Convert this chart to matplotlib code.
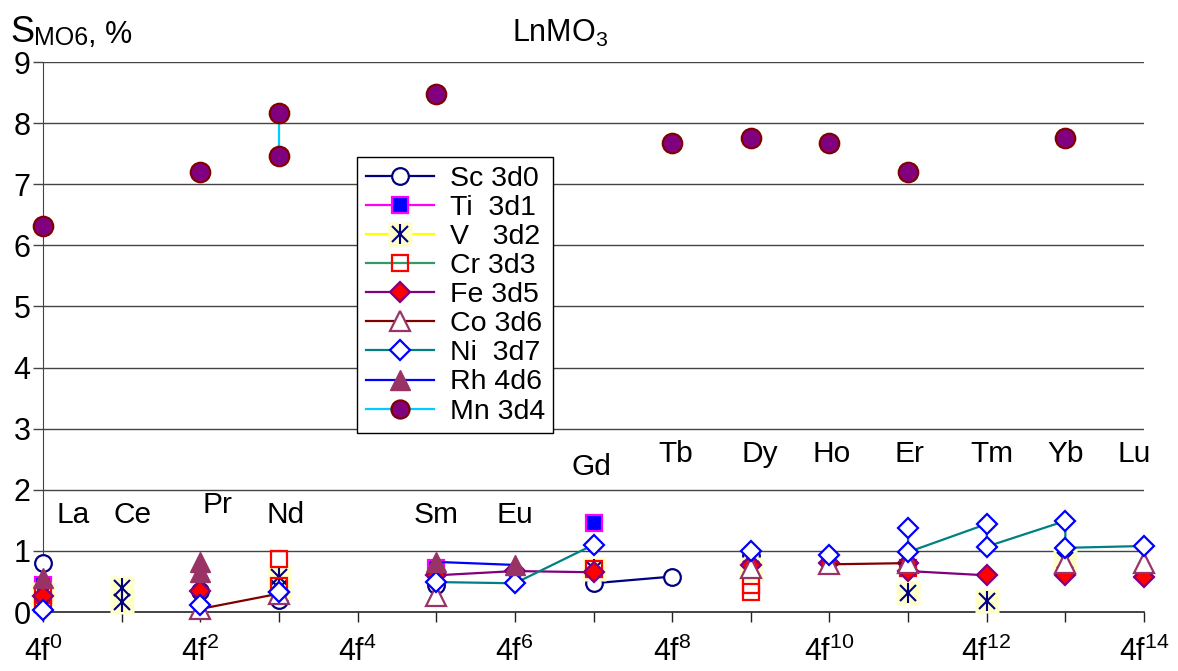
import numpy as np
import matplotlib
matplotlib.use("Agg")
import matplotlib.pyplot as plt
from matplotlib.lines import Line2D
from matplotlib.legend_handler import HandlerTuple

plt.rcParams['font.family'] = ['Liberation Sans', 'DejaVu Sans']
plt.rcParams['mathtext.fontset'] = 'custom'
plt.rcParams['mathtext.rm'] = 'Liberation Sans'
plt.rcParams['mathtext.it'] = 'Liberation Sans:italic'

nan = np.nan

# data (x = number of 4f electrons, y = S_MO6 in %), nan breaks the line
sc_x = [0, nan, 2, nan, 3, nan, 5, nan, 7, 8, nan, 9]
sc_y = [0.80, nan, 0.35, nan, 0.20, nan, 0.44, nan, 0.47, 0.58, nan, 0.92]

ti_x = [0, nan, 5, nan, 7]
ti_y = [0.45, nan, 0.72, nan, 1.45]

v_x = [0, nan, 1, nan, 1, nan, 3, nan, 3, nan, 7, nan, 9, nan, 11, nan, 12, nan, 13]
v_y = [0.30, nan, 0.40, nan, 0.17, nan, 0.58, nan, 0.40, nan, 0.70, nan, 0.70, nan, 0.31, nan, 0.18, nan, 0.85]

cr_x = [0, nan, 0, nan, 3, nan, 3, nan, 7, nan, 9, nan, 9, nan, 11]
cr_y = [0.28, nan, 0.15, nan, 0.87, nan, 0.42, nan, 0.70, nan, 0.45, nan, 0.33, nan, 0.72]

fe_x = [0, nan, 2, nan, 3, nan, 5, 6, 7, nan, 9, nan, 10, nan, 11, nan, 11, 12, nan, 13, nan, 14]
fe_y = [0.27, nan, 0.35, nan, 0.33, nan, 0.60, 0.67, 0.65, nan, 0.77, nan, 0.80, nan, 0.80, nan, 0.67, 0.60, nan, 0.60, nan, 0.57]

co_x = [2, 3, nan, 5, nan, 9, nan, 10, 11, nan, 13, nan, 14]
co_y = [0.05, 0.30, nan, 0.27, nan, 0.72, nan, 0.78, 0.80, nan, 0.80, nan, 0.80]

ni_x = [0, nan, 2, nan, 3, nan, 5, 6, 7, nan, 9, nan, 10, nan, 11, 11, 12, 12, 13, 13, 14]
ni_y = [0.03, nan, 0.12, nan, 0.32, nan, 0.49, 0.47, 1.10, nan, 1.00, nan, 0.93, nan, 1.37, 0.98, 1.44, 1.07, 1.49, 1.05, 1.08]

rh_x = [0, nan, 2, nan, 2, nan, 5, 6]
rh_y = [0.55, nan, 0.82, nan, 0.65, nan, 0.82, 0.77]

mn_x = [0, nan, 2, nan, 3, 3, nan, 5, nan, 8, nan, 9, nan, 10, nan, 11, nan, 13]
mn_y = [6.32, nan, 7.20, nan, 8.17, 7.47, nan, 8.47, nan, 7.68, nan, 7.75, nan, 7.68, nan, 7.20, nan, 7.75]

ln_names = ['La', 'Ce', 'Pr', 'Nd', 'Sm', 'Eu', 'Gd', 'Tb', 'Dy', 'Ho', 'Er', 'Tm', 'Yb', 'Lu']
ln_tx = [0.38, 1.14, 2.22, 3.09, 5.0, 6.0, 6.97, 8.05, 9.12, 10.03, 11.02, 12.07, 13.0, 13.87]
ln_ty = [1.58, 1.58, 1.75, 1.58, 1.58, 1.58, 2.37, 2.59, 2.59, 2.59, 2.59, 2.59, 2.59, 2.59]

xtick_pos = list(range(0, 15))
ytick_pos = list(range(0, 10))

fig = plt.figure(figsize=(11.78, 6.71), dpi=100)
ax = fig.add_axes([43 / 1178, 59 / 671, 1101 / 1178, 550 / 671])
ax.set_xlim(0, 14)
ax.set_ylim(0, 9)

for yv in ytick_pos[1:]:
    ax.axhline(yv, color='#444444', lw=1.0, zorder=0)

lw = 1.6
ax.plot(sc_x, sc_y, color='#000080', lw=lw, marker='o', ms=12, mfc='white',
        mec='#000080', mew=1.6, clip_on=False, zorder=3)
ax.plot(ti_x, ti_y, color='#FF00FF', lw=lw, marker='s', ms=12, mfc='#0000FF',
        mec='#FF00FF', mew=1.6, clip_on=False, zorder=4)
ax.plot(v_x, v_y, color='#FFFF00', lw=lw, marker='s', ms=17, mfc='#FFFFCC',
        mec='none', clip_on=False, zorder=5)
ax.plot(v_x, v_y, ls='none', marker='x', ms=11, mec='#000080', mew=1.5,
        clip_on=False, zorder=5)
ax.plot(v_x, v_y, ls='none', marker='|', ms=15, mec='#000080', mew=1.5,
        clip_on=False, zorder=5)
ax.plot(cr_x, cr_y, color='#339966', lw=lw, marker='s', ms=12, mfc='none',
        mec='#FF0000', mew=1.6, clip_on=False, zorder=6)
ax.plot(fe_x, fe_y, color='#800080', lw=lw, marker='D', ms=10, mfc='#FF0000',
        mec='#800080', mew=1.6, clip_on=False, zorder=7)
ax.plot(co_x, co_y, color='#800000', lw=lw, marker='^', ms=14, mfc='white',
        mec='#993366', mew=1.6, clip_on=False, zorder=8)
ax.plot(ni_x, ni_y, color='#008080', lw=lw, marker='D', ms=10, mfc='white',
        mec='#0000FF', mew=1.6, clip_on=False, zorder=9)
ax.plot(rh_x, rh_y, color='#0000FF', lw=lw, marker='^', ms=14, mfc='#993366',
        mec='#993366', mew=1.0, clip_on=False, zorder=10)
ax.plot(mn_x, mn_y, color='#00CCFF', lw=lw, marker='o', ms=14, mfc='#800080',
        mec='#800000', mew=1.6, clip_on=False, zorder=11)

for name, tx, ty in zip(ln_names, ln_tx, ln_ty):
    ax.text(tx, ty, name, fontsize=21.5, ha='center', va='center', zorder=12)

for s in ['top', 'right']:
    ax.spines[s].set_visible(False)
ax.spines['left'].set_color('#444444')
ax.spines['bottom'].set_color('#222222')
ax.spines['bottom'].set_linewidth(1.2)

ax.set_yticks(ytick_pos)
ax.set_yticklabels([str(v) for v in ytick_pos], fontsize=22)
ax.set_xticks(xtick_pos)
ax.set_xticklabels(['4f$^{\\mathregular{%d}}$' % v if v % 2 == 0 else '' for v in xtick_pos],
                   fontsize=22)
ax.tick_params(axis='y', direction='out', length=7, width=1.0, color='#444444', pad=2)
ax.tick_params(axis='x', direction='out', length=7, width=1.0, color='#222222', pad=11)

# legend
h_sc = Line2D([], [], color='#000080', lw=lw, marker='o', ms=12, mfc='white', mec='#000080', mew=1.6)
h_ti = Line2D([], [], color='#FF00FF', lw=lw, marker='s', ms=12, mfc='#0000FF', mec='#FF00FF', mew=1.6)
h_v = (Line2D([], [], color='#FFFF00', lw=lw, marker='s', ms=17, mfc='#FFFFCC', mec='none'),
       Line2D([], [], ls='none', marker='x', ms=11, mec='#000080', mew=1.5),
       Line2D([], [], ls='none', marker='|', ms=15, mec='#000080', mew=1.5))
h_cr = Line2D([], [], color='#339966', lw=lw, marker='s', ms=12, mfc='none', mec='#FF0000', mew=1.6)
h_fe = Line2D([], [], color='#800080', lw=lw, marker='D', ms=10, mfc='#FF0000', mec='#800080', mew=1.6)
h_co = Line2D([], [], color='#800000', lw=lw, marker='^', ms=14, mfc='white', mec='#993366', mew=1.6)
h_ni = Line2D([], [], color='#008080', lw=lw, marker='D', ms=10, mfc='white', mec='#0000FF', mew=1.6)
h_rh = Line2D([], [], color='#0000FF', lw=lw, marker='^', ms=14, mfc='#993366', mec='#993366', mew=1.0)
h_mn = Line2D([], [], color='#00CCFF', lw=lw, marker='o', ms=13, mfc='#800080', mec='#800000', mew=1.6)
labels = ['Sc 3d0', 'Ti  3d1', 'V   3d2', 'Cr 3d3', 'Fe 3d5', 'Co 3d6', 'Ni  3d7', 'Rh 4d6', 'Mn 3d4']
leg = ax.legend([h_sc, h_ti, h_v, h_cr, h_fe, h_co, h_ni, h_rh, h_mn], labels,
                handler_map={tuple: HandlerTuple(ndivide=1)},
                loc='upper left', bbox_to_anchor=((357 - 43) / 1101, (612 - 157) / 550),
                borderaxespad=0, fontsize=20.5, handlelength=2.4, labelspacing=0.11,
                handletextpad=0.55, borderpad=0.3, handleheight=0.7,
                fancybox=False, framealpha=1, edgecolor='black')
leg.get_frame().set_linewidth(1.0)
leg.set_zorder(20)

# titles
t1 = fig.text(10 / 1178, 1 - 42 / 671, 'S', fontsize=26, va='baseline', ha='left')
t2 = ax.annotate('MO6', xy=(1, 0), xycoords=t1, fontsize=18, va='bottom', ha='left')
ax.annotate(', %', xy=(1, 0), xycoords=t2, fontsize=22, va='bottom', ha='left')
fig.text(560 / 1178, 1 - 42 / 671, 'LnMO$_{\\mathregular{3}}$', fontsize=22, ha='center', va='baseline')

fig.savefig('out.png', dpi=100)
